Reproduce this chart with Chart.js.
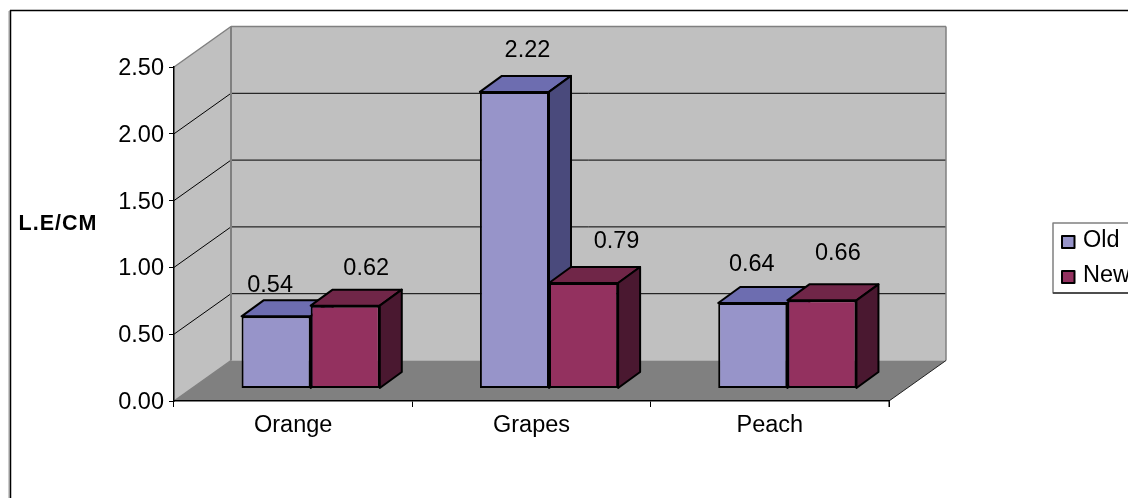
<!DOCTYPE html>
<html>
<head>
<meta charset="utf-8">
<title>L.E/CM</title>
<script src="https://cdn.jsdelivr.net/npm/chart.js@4"></script>
<style>
  html, body { margin: 0; padding: 0; background: #fff; overflow: hidden; }
  canvas { display: block; }
</style>
</head>
<body>
<canvas id="grafico" width="1128" height="498"></canvas>
<script>
const categories = ['Orange', 'Grapes', 'Peach']
const oldValues = [0.54, 2.22, 0.64]
const newValues = [0.62, 0.79, 0.66]
const seriesNames = ['Old', 'New']

// the labels were dragged around by hand in the original
const oldLabelNudge = [[-6, -31], [13, -41], [-1, -38]]
const newLabelNudge = [[21, -37], [33, -41], [16, -47]]

const fonte = 'Arial, "Liberation Sans", sans-serif'
const tamanho = 23.5

const wallDepth = { x: 57, y: -40.5 }   // floor and side wall
const barShift = { x: 17.5, y: -12.5 }  // bars stand in the middle of the floor
const barDepth = { x: 22, y: -16 }

const faces = [
  { front: '#9794C9', top: '#6D6DB0', side: '#4A4A7C' },
  { front: '#93315F', top: '#702648', side: '#4A1830' }
]

function poly(ctx, pts, fill, stroke, lw) {
  ctx.beginPath()
  pts.forEach((p, i) => i ? ctx.lineTo(p[0], p[1]) : ctx.moveTo(p[0], p[1]))
  ctx.closePath()
  if (fill) { ctx.fillStyle = fill; ctx.fill() }
  if (stroke) { ctx.strokeStyle = stroke; ctx.lineWidth = lw; ctx.lineJoin = 'round'; ctx.stroke() }
}

function line(ctx, x1, y1, x2, y2, color, lw) {
  ctx.beginPath()
  ctx.moveTo(x1, y1)
  ctx.lineTo(x2, y2)
  ctx.strokeStyle = color
  ctx.lineWidth = lw
  ctx.stroke()
}

const caixa3d = {
  id: 'caixa3d',
  beforeDraw(chart) {
    const { ctx, chartArea: a, scales } = chart
    const dx = wallDepth.x, dy = wallDepth.y
    ctx.save()
    ctx.fillStyle = '#fff'
    ctx.fillRect(0, 0, chart.width, chart.height)

    // outer frame, cut off by the right and bottom of the picture
    line(ctx, 9, 11, 9, 498, '#999', 1)
    line(ctx, 10.5, 10, 10.5, 498, '#000', 1.5)
    line(ctx, 10, 10.5, 1128, 10.5, '#000', 1.5)

    // walls and floor
    poly(ctx, [[a.left, a.top], [a.left + dx, a.top + dy], [a.left + dx, a.bottom + dy], [a.left, a.bottom]], '#C0C0C0')
    poly(ctx, [[a.left + dx, a.top + dy], [a.right + dx, a.top + dy], [a.right + dx, a.bottom + dy], [a.left + dx, a.bottom + dy]], '#C0C0C0')
    poly(ctx, [[a.left, a.bottom], [a.left + dx, a.bottom + dy], [a.right + dx, a.bottom + dy], [a.right, a.bottom]], '#808080')

    scales.y.ticks.forEach(t => {
      if (t.value === 0 || t.value === 2.5) return
      const y = scales.y.getPixelForValue(t.value)
      line(ctx, a.left, y, a.left + dx, y + dy, '#000', 1)
      line(ctx, a.left + dx, y + dy, a.right + dx, y + dy, '#000', 1)
    })

    // wall edges
    line(ctx, a.left, a.top, a.left + dx, a.top + dy, '#808080', 1.5)
    line(ctx, a.left + dx, a.top + dy, a.right + dx, a.top + dy, '#808080', 1.5)
    line(ctx, a.left + dx, a.top + dy, a.left + dx, a.bottom + dy, '#808080', 2)
    line(ctx, a.right + dx, a.top + dy, a.right + dx, a.bottom + dy, '#808080', 1.5)
    line(ctx, a.left, a.bottom, a.left + dx, a.bottom + dy, '#808080', 1.5)
    line(ctx, a.right, a.bottom, a.right + dx, a.bottom + dy, '#222', 1)
    line(ctx, a.right, a.bottom, a.right, a.bottom + 6, '#000', 1)

    // axis title is horizontal here, chart.js would only rotate it
    ctx.fillStyle = '#000'
    ctx.font = 'bold 21.5px ' + fonte
    ctx.letterSpacing = '1px'
    ctx.textAlign = 'center'
    ctx.textBaseline = 'middle'
    ctx.fillText('L.E/CM', 58, 224.5)
    ctx.letterSpacing = '0px'

    // legend, runs off the right side like the original
    poly(ctx, [[1053, 223], [1130, 223], [1130, 293], [1053, 293]], '#fff', '#808080', 1.5)
    line(ctx, 1053, 293, 1128, 293, '#333', 1.5)
    seriesNames.forEach((nome, i) => {
      const y = 240 + i * 35
      ctx.fillStyle = faces[i].front
      ctx.strokeStyle = '#000'
      ctx.lineWidth = 2
      ctx.fillRect(1062, y - 4, 12.5, 12)
      ctx.strokeRect(1062, y - 4, 12.5, 12)
      ctx.fillStyle = '#000'
      ctx.font = tamanho + 'px ' + fonte
      ctx.textAlign = 'left'
      ctx.textBaseline = 'middle'
      ctx.fillText(nome, 1083, y + 1)
    })
    ctx.restore()
  },
  beforeDatasetsDraw(chart) {
    // Old first, New on top of it: chart.js would paint them the other way round
    const ctx = chart.ctx
    const dx = barDepth.x, dy = barDepth.y
    ctx.save()
    ctx.translate(barShift.x, barShift.y)
    chart.data.datasets.forEach((ds, d) => {
      const meta = chart.getDatasetMeta(d)
      const c = faces[d]
      meta.data.forEach(bar => {
        const l = bar.x - bar.width / 2, r = bar.x + bar.width / 2
        poly(ctx, [[l, bar.y], [l + dx, bar.y + dy], [r + dx, bar.y + dy], [r, bar.y]], c.top, '#000', 2)
        poly(ctx, [[r, bar.y], [r + dx, bar.y + dy], [r + dx, bar.base + dy], [r, bar.base]], c.side, '#000', 2)
      })
      meta.controller.draw()
    })
    ctx.restore()
  },
  beforeDatasetDraw() {
    return false
  },
  afterDatasetsDraw(chart) {
    const ctx = chart.ctx
    ctx.save()
    ctx.fillStyle = '#000'
    ctx.font = tamanho + 'px ' + fonte
    ctx.textAlign = 'center'
    ctx.textBaseline = 'middle'
    const nudges = [oldLabelNudge, newLabelNudge]
    chart.data.datasets.forEach((ds, d) => {
      chart.getDatasetMeta(d).data.forEach((bar, i) => {
        ctx.fillText(ds.data[i].toFixed(2), bar.x + barShift.x + nudges[d][i][0], bar.y + barShift.y + nudges[d][i][1])
      })
    })
    ctx.restore()
  }
}

const grafico = document.getElementById('grafico').getContext('2d')

new Chart(grafico, {
  type: 'bar',
  data: {
    labels: categories,
    datasets: [
      { label: seriesNames[0], data: oldValues, backgroundColor: faces[0].front },
      { label: seriesNames[1], data: newValues, backgroundColor: faces[1].front }
    ]
  },
  options: {
    responsive: false,
    animation: false,
    layout: { padding: { top: 67, right: 239, left: 0, bottom: 0 } },
    datasets: {
      bar: {
        clip: false,
        borderColor: '#000',
        borderWidth: 2,
        borderSkipped: false,
        categoryPercentage: 0.58,
        barPercentage: 1
      }
    },
    plugins: {
      legend: { display: false },
      tooltip: { enabled: false }
    },
    scales: {
      x: {
        afterFit(s) { s.height = 97 },
        grid: { drawOnChartArea: false, color: '#000', tickLength: 6 },
        border: { color: '#000', width: 1.5 },
        ticks: { color: '#000', font: { family: fonte, size: tamanho }, padding: 4, maxRotation: 0 }
      },
      y: {
        min: 0,
        max: 2.5,
        afterFit(s) { s.width = 174 },
        grid: { drawOnChartArea: false, color: '#000', tickLength: 5 },
        border: { color: '#000', width: 1.5 },
        ticks: {
          stepSize: 0.5,
          color: '#000',
          font: { family: fonte, size: tamanho },
          padding: 5,
          labelOffset: 1.5,
          callback: v => v.toFixed(2)
        }
      }
    }
  },
  plugins: [caixa3d]
})
</script>
</body>
</html>
